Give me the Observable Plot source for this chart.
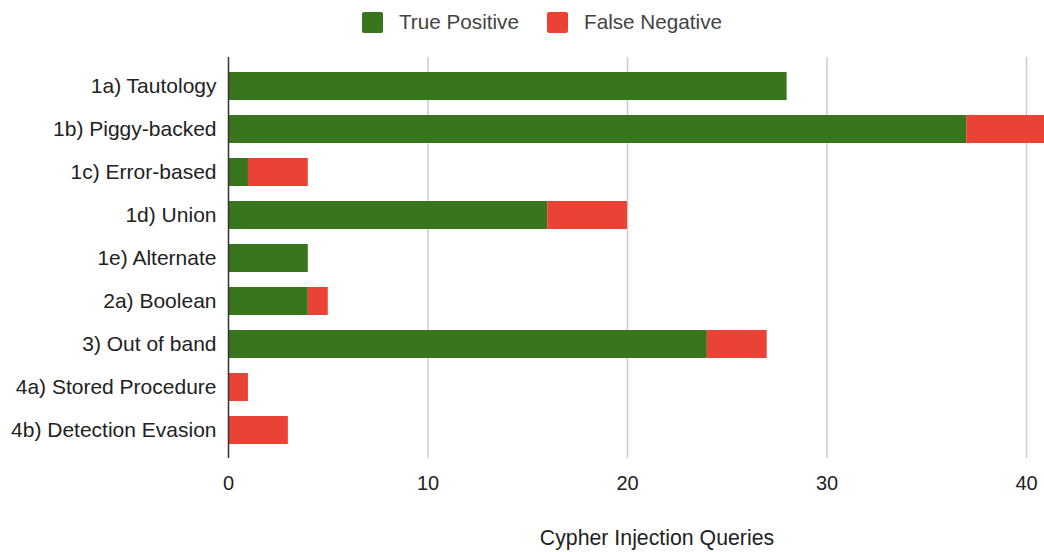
<!DOCTYPE html>
<html>
<head>
<meta charset="utf-8">
<script src="https://cdn.jsdelivr.net/npm/d3@7"></script>
<script src="https://cdn.jsdelivr.net/npm/@observablehq/plot@0.6"></script>
<style>
  html, body { margin: 0; padding: 0; background: #fff; overflow: hidden; }
  body { width: 1044px; height: 552px; position: relative; font-family: "Liberation Sans", Arial, sans-serif; }
  .lg-sw { position: absolute; width: 21px; height: 21px; border-radius: 2px; top: 12px; }
  .lg-tx { position: absolute; top: 10px; font-size: 20.7px; line-height: 24px; color: #444; white-space: nowrap; }
  #chart { position: absolute; left: 0; top: 44px; }
  #xtitle { position: absolute; left: 657px; top: 526px; transform: translateX(-50%); font-size: 21.3px; line-height: 24px; color: #222; white-space: nowrap; }
</style>
</head>
<body>
<div class="lg-sw" style="left:362px;background:#38761d"></div>
<div class="lg-tx" style="left:399px">True Positive</div>
<div class="lg-sw" style="left:547px;background:#ea4335"></div>
<div class="lg-tx" style="left:584px">False Negative</div>
<div id="chart"></div>
<div id="xtitle">Cypher Injection Queries</div>
<script>
const categories = [
  "1a) Tautology",
  "1b) Piggy-backed",
  "1c) Error-based",
  "1d) Union",
  "1e) Alternate",
  "2a) Boolean",
  "3) Out of band",
  "4a) Stored Procedure",
  "4b) Detection Evasion"
];
const series = ["True Positive", "False Negative"];
const truePositive  = [28, 37, 1, 16, 4, 4, 24, 0, 0];
const falseNegative = [0, 4, 3, 4, 0, 1, 3, 1, 3];
const xTicks = [0, 10, 20, 30, 40];
const colors = ["#38761d", "#ea4335"];

const table = [];
categories.forEach((c, i) => {
  table.push({category: c, series: series[0], value: truePositive[i]});
  table.push({category: c, series: series[1], value: falseNegative[i]});
});

const chart = Plot.plot({
  width: 1044,
  height: 508,
  marginLeft: 228,
  marginRight: 0,
  marginTop: 13,
  marginBottom: 94,
  style: {fontSize: "21px", fontFamily: "'Liberation Sans', Arial, sans-serif", color: "#222", background: "#fff"},
  x: {domain: [0, 40.9], axis: null},
  y: {domain: categories, paddingInner: 0.35, paddingOuter: 0.175, insetTop: 7.5, insetBottom: 6.5, axis: null},
  color: {domain: series, range: colors},
  marks: [
    Plot.gridX(xTicks.filter(d => d > 0), {stroke: "#cccccc", strokeOpacity: 1, strokeWidth: 1.5}),
    Plot.barX(table, Plot.stackX({x: "value", y: "category", fill: "series", clip: true})),
    Plot.ruleX([0], {stroke: "#333", strokeWidth: 1.5}),
    Plot.axisY({tickSize: 0, tickPadding: 12, label: null, fontSize: 21, fill: "#222"}),
    Plot.axisX({ticks: xTicks, tickSize: 0, tickPadding: 17, label: null, fontSize: 20, fill: "#222"})
  ]
});
document.getElementById("chart").appendChild(chart);
</script>
</body>
</html>
